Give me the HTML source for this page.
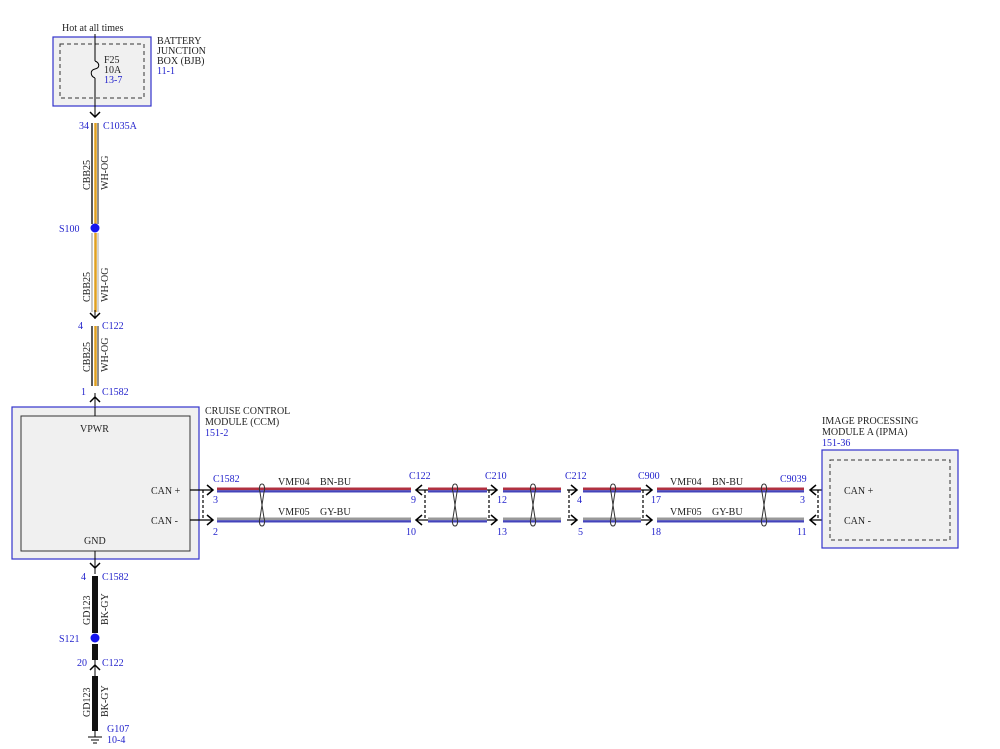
<!DOCTYPE html>
<html><head><meta charset="utf-8"><style>
html,body{margin:0;padding:0;background:#fff;}
svg{display:block;}
text{font-family:"Liberation Serif",serif;font-size:10px;fill:#222;}
.b{fill:#2222cc;}
</style></head><body>
<svg width="1000" height="749" viewBox="0 0 1000 749" xmlns="http://www.w3.org/2000/svg">
<defs>
<g id="tw" fill="none" stroke="#333" stroke-width="1">
<path d="M0 484 C-3 484,-3 490,-2 492 L2 518 C3 520,3 526,0 526 C-3 526,-3 520,-2 518 L2 492 C3 490,3 484,0 484Z"/>
</g>
</defs>
<!-- BJB -->
<text x="62" y="31" font-size="9">Hot at all times</text>
<rect x="53" y="37" width="98" height="69" fill="#f0f0f0" stroke="#3333cc" stroke-width="1.2"/>
<rect x="60" y="44" width="84" height="54" fill="none" stroke="#333" stroke-dasharray="4,3"/>
<line x1="95" y1="34" x2="95" y2="61" stroke="#000"/>
<path d="M95 61 C100 63,100 68,95 69 C90 70,90 76,95 78" fill="none" stroke="#000"/>
<line x1="95" y1="78" x2="95" y2="116" stroke="#000"/>
<text x="104" y="63">F25</text><text x="104" y="73">10A</text><text x="104" y="83" class="b">13-7</text>
<text x="157" y="44">BATTERY</text><text x="157" y="54">JUNCTION</text><text x="157" y="64">BOX (BJB)</text><text x="157" y="74" class="b">11-1</text>
<path d="M90 112 L95 117 L100 112" fill="none" stroke="#000" stroke-width="1.5"/>
<text x="79" y="129" class="b">34</text><text x="103" y="129" class="b">C1035A</text>
<line x1="92" y1="123" x2="92" y2="224" stroke="#000" stroke-width="1.3"/>
<line x1="95.5" y1="123" x2="95.5" y2="224" stroke="#e0a020" stroke-width="2.5"/>
<line x1="98" y1="123" x2="98" y2="224" stroke="#222" stroke-width="1"/>
<text transform="translate(90,190) rotate(-90)">CBB25</text>
<text transform="translate(108,190) rotate(-90)">WH-OG</text>
<circle cx="95" cy="228" r="4.5" fill="#1515ee"/>
<text x="59" y="232" class="b">S100</text>
<line x1="92" y1="233" x2="92" y2="312" stroke="#aaa" stroke-width="1.3"/>
<line x1="95.5" y1="233" x2="95.5" y2="312" stroke="#e0a020" stroke-width="2.5"/>
<line x1="98" y1="233" x2="98" y2="312" stroke="#aaa" stroke-width="1"/>
<text transform="translate(90,302) rotate(-90)">CBB25</text>
<text transform="translate(108,302) rotate(-90)">WH-OG</text>
<line x1="95" y1="310" x2="95" y2="319" stroke="#000"/>
<path d="M90 313 L95 318 L100 313" fill="none" stroke="#000" stroke-width="1.5"/>
<text x="78" y="329" class="b">4</text><text x="102" y="329" class="b">C122</text>
<line x1="92" y1="326" x2="92" y2="386" stroke="#000" stroke-width="1.3"/>
<line x1="95.5" y1="326" x2="95.5" y2="386" stroke="#e0a020" stroke-width="2.5"/>
<line x1="98" y1="326" x2="98" y2="386" stroke="#222" stroke-width="1"/>
<text transform="translate(90,372) rotate(-90)">CBB25</text>
<text transform="translate(108,372) rotate(-90)">WH-OG</text>
<text x="81" y="395" class="b">1</text><text x="102" y="395" class="b">C1582</text>
<line x1="95" y1="393" x2="95" y2="416" stroke="#000"/>
<path d="M90 402 L95 397 L100 402" fill="none" stroke="#000" stroke-width="1.5"/>
<!-- CCM -->
<rect x="12" y="407" width="187" height="152" fill="#f0f0f0" stroke="#3333cc" stroke-width="1.2"/>
<rect x="21" y="416" width="169" height="135" fill="#f0f0f0" stroke="#333"/>
<line x1="95" y1="407" x2="95" y2="416" stroke="#000"/>
<text x="80" y="432">VPWR</text>
<text x="151" y="494">CAN +</text><text x="151" y="524">CAN -</text>
<text x="84" y="544">GND</text>
<text x="205" y="414">CRUISE CONTROL</text><text x="205" y="425">MODULE (CCM)</text><text x="205" y="436" class="b">151-2</text>
<g stroke-width="1.2" stroke="#000">
<line x1="190" y1="490" x2="213" y2="490"/><line x1="190" y1="520" x2="213" y2="520"/>
<line x1="203" y1="490" x2="203" y2="520" stroke-dasharray="3,2"/>
<path d="M207 485 L213 490 L207 495" fill="none" stroke-width="1.5"/>
<path d="M207 515 L213 520 L207 525" fill="none" stroke-width="1.5"/>
<line x1="416" y1="490" x2="428" y2="490"/><line x1="416" y1="520" x2="428" y2="520"/>
<line x1="425" y1="490" x2="425" y2="520" stroke-dasharray="3,2"/>
<path d="M422 485 L416 490 L422 495" fill="none" stroke-width="1.5"/>
<path d="M422 515 L416 520 L422 525" fill="none" stroke-width="1.5"/>
<line x1="487" y1="490" x2="497" y2="490"/><line x1="487" y1="520" x2="497" y2="520"/>
<line x1="489" y1="490" x2="489" y2="520" stroke-dasharray="3,2"/>
<path d="M491 485 L497 490 L491 495" fill="none" stroke-width="1.5"/>
<path d="M491 515 L497 520 L491 525" fill="none" stroke-width="1.5"/>
<line x1="567" y1="490" x2="577" y2="490"/><line x1="567" y1="520" x2="577" y2="520"/>
<line x1="569" y1="490" x2="569" y2="520" stroke-dasharray="3,2"/>
<path d="M571 485 L577 490 L571 495" fill="none" stroke-width="1.5"/>
<path d="M571 515 L577 520 L571 525" fill="none" stroke-width="1.5"/>
<line x1="641" y1="490" x2="652" y2="490"/><line x1="641" y1="520" x2="652" y2="520"/>
<line x1="643" y1="490" x2="643" y2="520" stroke-dasharray="3,2"/>
<path d="M646 485 L652 490 L646 495" fill="none" stroke-width="1.5"/>
<path d="M646 515 L652 520 L646 525" fill="none" stroke-width="1.5"/>
<line x1="810" y1="490" x2="830" y2="490"/><line x1="810" y1="520" x2="830" y2="520"/>
<line x1="818" y1="490" x2="818" y2="520" stroke-dasharray="3,2"/>
<path d="M816 485 L810 490 L816 495" fill="none" stroke-width="1.5"/>
<path d="M816 515 L810 520 L816 525" fill="none" stroke-width="1.5"/>
</g>
<g>
<rect x="217" y="487.5" width="194" height="2.7" fill="#b03040"/><rect x="217" y="490.2" width="194" height="2.3" fill="#4444bb"/>
<rect x="217" y="517.5" width="194" height="2.7" fill="#999"/><rect x="217" y="520.2" width="194" height="2.3" fill="#4444bb"/>
<rect x="428" y="487.5" width="59" height="2.7" fill="#b03040"/><rect x="428" y="490.2" width="59" height="2.3" fill="#4444bb"/>
<rect x="428" y="517.5" width="59" height="2.7" fill="#999"/><rect x="428" y="520.2" width="59" height="2.3" fill="#4444bb"/>
<rect x="503" y="487.5" width="58" height="2.7" fill="#b03040"/><rect x="503" y="490.2" width="58" height="2.3" fill="#4444bb"/>
<rect x="503" y="517.5" width="58" height="2.7" fill="#999"/><rect x="503" y="520.2" width="58" height="2.3" fill="#4444bb"/>
<rect x="583" y="487.5" width="58" height="2.7" fill="#b03040"/><rect x="583" y="490.2" width="58" height="2.3" fill="#4444bb"/>
<rect x="583" y="517.5" width="58" height="2.7" fill="#999"/><rect x="583" y="520.2" width="58" height="2.3" fill="#4444bb"/>
<rect x="657" y="487.5" width="147" height="2.7" fill="#b03040"/><rect x="657" y="490.2" width="147" height="2.3" fill="#4444bb"/>
<rect x="657" y="517.5" width="147" height="2.7" fill="#999"/><rect x="657" y="520.2" width="147" height="2.3" fill="#4444bb"/>
</g>
<use href="#tw" x="262"/><use href="#tw" x="455"/><use href="#tw" x="533"/><use href="#tw" x="613"/><use href="#tw" x="764"/>
<text x="213" y="482" class="b">C1582</text><text x="213" y="503" class="b">3</text><text x="213" y="535" class="b">2</text>
<text x="278" y="485">VMF04</text><text x="320" y="485">BN-BU</text>
<text x="278" y="515">VMF05</text><text x="320" y="515">GY-BU</text>
<text x="409" y="479" class="b">C122</text><text x="411" y="503" class="b">9</text><text x="406" y="535" class="b">10</text>
<text x="485" y="479" class="b">C210</text><text x="497" y="503" class="b">12</text><text x="497" y="535" class="b">13</text>
<text x="565" y="479" class="b">C212</text><text x="577" y="503" class="b">4</text><text x="578" y="535" class="b">5</text>
<text x="638" y="479" class="b">C900</text><text x="651" y="503" class="b">17</text><text x="651" y="535" class="b">18</text>
<text x="670" y="485">VMF04</text><text x="712" y="485">BN-BU</text>
<text x="670" y="515">VMF05</text><text x="712" y="515">GY-BU</text>
<text x="780" y="482" class="b">C9039</text><text x="800" y="503" class="b">3</text><text x="797" y="535" class="b">11</text>
<!-- IPMA -->
<rect x="822" y="450" width="136" height="98" fill="#f0f0f0" stroke="#3333cc" stroke-width="1.2"/>
<rect x="830" y="460" width="120" height="80" fill="none" stroke="#333" stroke-dasharray="4,3"/>
<text x="844" y="494">CAN +</text><text x="844" y="524">CAN -</text>
<text x="822" y="424">IMAGE PROCESSING</text><text x="822" y="435">MODULE A (IPMA)</text><text x="822" y="446" class="b">151-36</text>
<!-- ground -->
<line x1="95" y1="551" x2="95" y2="574" stroke="#000"/>
<path d="M90 563 L95 568 L100 563" fill="none" stroke="#000" stroke-width="1.5"/>
<text x="81" y="580" class="b">4</text><text x="102" y="580" class="b">C1582</text>
<rect x="92" y="576" width="6" height="57" fill="#111"/>
<text transform="translate(90,625) rotate(-90)">GD123</text>
<text transform="translate(108,625) rotate(-90)">BK-GY</text>
<circle cx="95" cy="638" r="4.5" fill="#1515ee"/>
<text x="59" y="642" class="b">S121</text>
<rect x="92" y="644" width="6" height="16" fill="#111"/>
<text x="77" y="666" class="b">20</text><text x="102" y="666" class="b">C122</text>
<line x1="95" y1="660" x2="95" y2="676" stroke="#000"/>
<path d="M90 670 L95 665 L100 670" fill="none" stroke="#000" stroke-width="1.5"/>
<rect x="92" y="676" width="6" height="55" fill="#111"/>
<text transform="translate(90,717) rotate(-90)">GD123</text>
<text transform="translate(108,717) rotate(-90)">BK-GY</text>
<line x1="95" y1="730" x2="95" y2="737" stroke="#000"/>
<line x1="88" y1="737" x2="102" y2="737" stroke="#000"/>
<line x1="91" y1="740" x2="99" y2="740" stroke="#000"/>
<line x1="93" y1="743" x2="97" y2="743" stroke="#000"/>
<text x="107" y="732" class="b">G107</text><text x="107" y="743" class="b">10-4</text>
</svg>
</body></html>
